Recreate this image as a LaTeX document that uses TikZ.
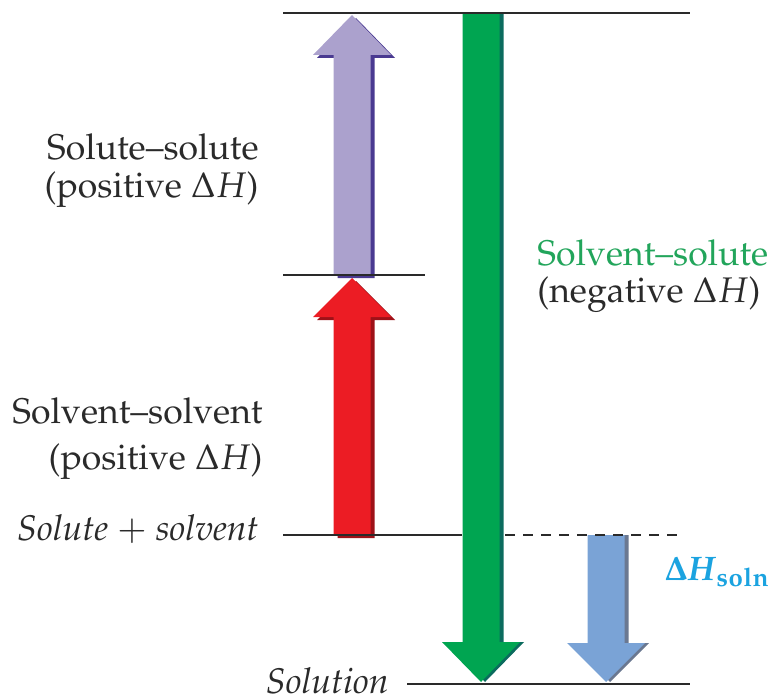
\documentclass[tikz,border=0pt]{standalone}
\usepackage[T1]{fontenc}
\usepackage{mathpazo}
\usepackage{amsmath}
\usetikzlibrary{positioning}
\definecolor{ink}{HTML}{2A2A2A}
\definecolor{lav}{HTML}{ABA1CD}
\definecolor{lavd}{HTML}{4A3A91}
\definecolor{rd}{HTML}{EC1C24}
\definecolor{rdd}{HTML}{9E1118}
\definecolor{grn}{HTML}{00A551}
\definecolor{grnd}{HTML}{0B6B5E}
\definecolor{blu}{HTML}{7AA3D6}
\definecolor{blud}{HTML}{6A7891}
\definecolor{grntxt}{HTML}{22A55B}
\definecolor{cyantxt}{HTML}{1BA3E0}
\tikzset{
  level/.style={draw=ink, line width=1pt},
  lbl/.style={font=\fontsize{17.8}{20}\selectfont, text=ink, inner sep=0pt},
  ilbl/.style={lbl, font=\fontsize{17.8}{20}\selectfont\itshape},
}

\begin{document}
\begin{tikzpicture}[x=0.5pt, y=-0.5pt]
    \useasboundingbox (0,0) rectangle (775,695);
    % block arrows: centre x / base y / head y / tip y / fill / shade / shade offset
    \foreach \cx/\ya/\yh/\yt/\fc/\sc/\dx/\dy in {
        352/275/55/15/lav/lavd/4/3,
        352/535/317/278/rd/rdd/4/3,
        481/13/642/682/grn/grnd/4/0,
        606/535/643/682/blu/blud/4/0} {
      \fill[\sc, shift={(\dx,\dy)}] (\cx-18.5,\ya) -- (\cx-18.5,\yh) -- (\cx-39,\yh) -- (\cx,\yt)
        -- (\cx+39,\yh) -- (\cx+18.5,\yh) -- (\cx+18.5,\ya) -- cycle;
      \fill[\fc] (\cx-18.5,\ya) -- (\cx-18.5,\yh) -- (\cx-39,\yh) -- (\cx,\yt)
        -- (\cx+39,\yh) -- (\cx+18.5,\yh) -- (\cx+18.5,\ya) -- cycle;
    }
    % energy levels
    \coordinate (topL) at (283,13);   \coordinate (topR) at (690,13);
    \coordinate (midL) at (283,275);  \coordinate (midR) at (425,275);
    \coordinate (stL) at (283,535);   \coordinate (stM) at (462,535);
    \coordinate (dsL) at (505,535);   \coordinate (dsR) at (683,535);
    \coordinate (soL) at (407,684);   \coordinate (soR) at (690,684);
    \draw[level] (topL) -- (topR);
    \draw[level] (midL) -- (midR);
    \draw[level] (stL) -- (stM);
    \draw[level, dash pattern=on 5pt off 4pt] (dsL) -- (dsR);
    \draw[level] (soL) -- (soR);
    % labels
    \node[lbl, anchor=base east] (ss1) at (259,160) {Solute--solute};
    \node[lbl, anchor=base east] (ss2) at (259,198) {(positive $\Delta H$)};
    \node[lbl, anchor=base east] (vv1) at (263,423) {Solvent--solvent};
    \node[lbl, anchor=base east] (vv2) at (263,469) {(positive $\Delta H$)};
    \node[ilbl, anchor=base east] (start) at (259,540) {Solute $+$ solvent};
    \node[ilbl, anchor=base east] (soln) at (389,693) {Solution};
    \node[lbl, anchor=base west, text=grntxt] (vs1) at (537,265) {Solvent--solute};
    \node[lbl, anchor=base west] (vs2) at (537,302) {(negative $\Delta H$)};
    \node[lbl, anchor=base west, text=cyantxt, font=\fontsize{17}{20}\selectfont] (dh) at (664,580) {$\mathbf{\Delta}\textbf{\textit{H}}_{\mathbf{soln}}$};
\end{tikzpicture}
\end{document}
